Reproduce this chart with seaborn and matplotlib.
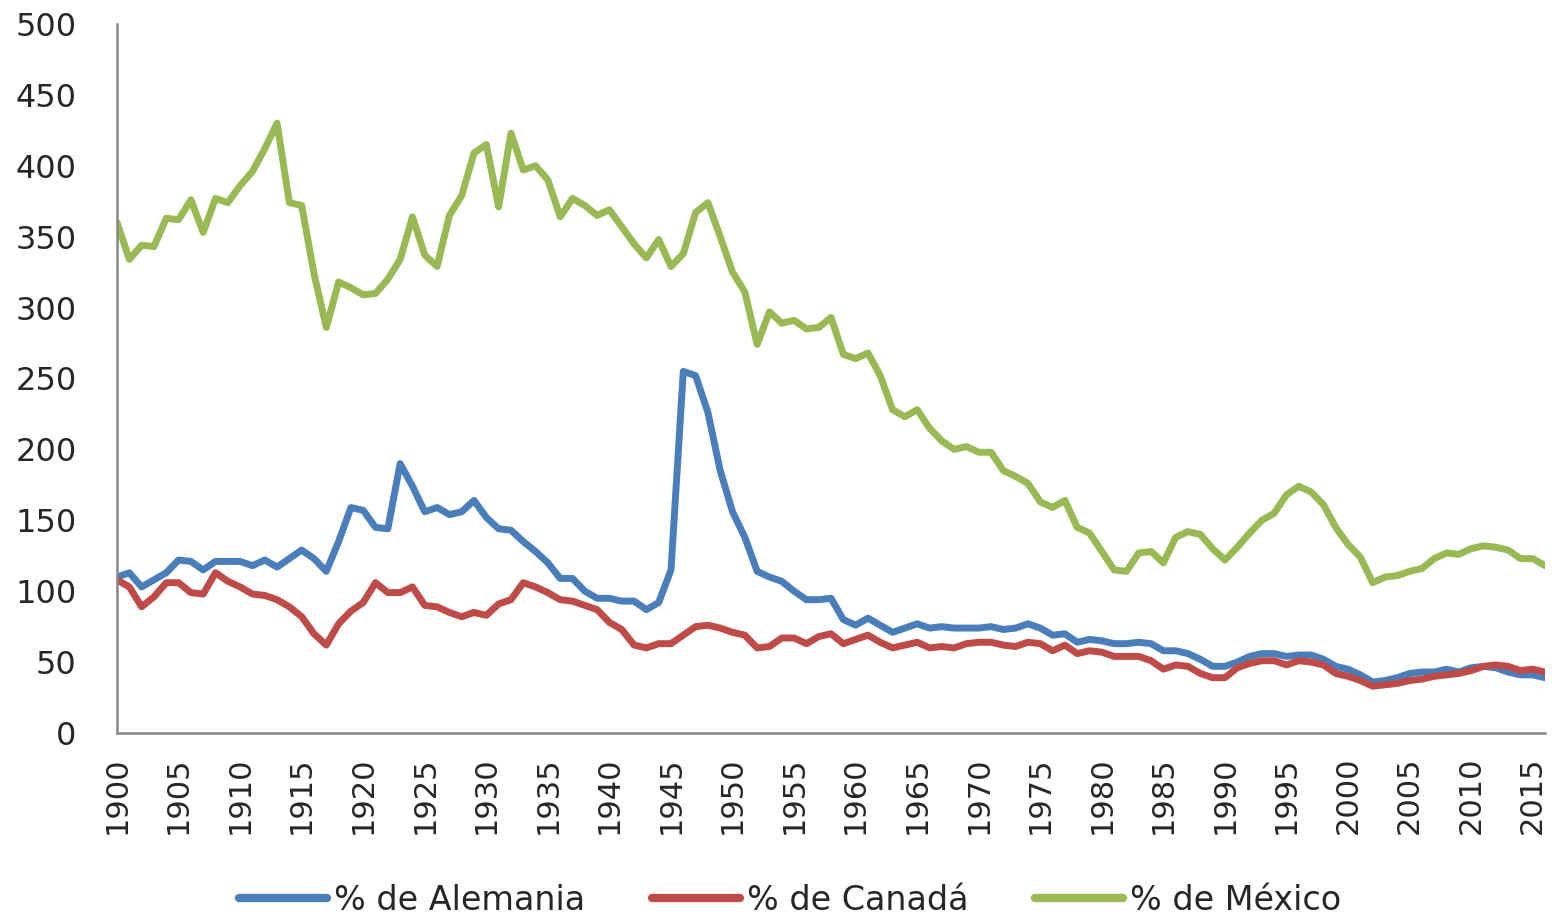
import pandas as pd
import matplotlib
matplotlib.use("Agg")
import matplotlib.pyplot as plt
import seaborn as sns
from matplotlib.ticker import MultipleLocator

# --- data (one value per year, 1900-2016) ---
years = list(range(1900, 2017))

alemania = [
    110, 113, 103, 108, 113, 122, 121, 115, 121, 121,
    121, 118, 122, 117, 123, 129, 123, 114, 135, 159,
    157, 145, 144, 190, 174, 156, 159, 154, 156, 164,
    152, 144, 143, 135, 128, 120, 109, 109, 100, 95,
    95, 93, 93, 87, 92, 115, 255, 252, 226, 185,
    156, 138, 114, 110, 107, 100, 94, 94, 95, 80,
    76, 81, 76, 71, 74, 77, 74, 75, 74, 74,
    74, 75, 73, 74, 77, 74, 69, 70, 64, 66,
    65, 63, 63, 64, 63, 58, 58, 56, 52, 47,
    47, 50, 54, 56, 56, 54, 55, 55, 52, 47,
    45, 41, 36, 37, 39, 42, 43, 43, 45, 43,
    46, 47, 46, 43, 41, 41, 39,
]

canada = [
    108, 103, 89, 96, 106, 106, 99, 98, 113, 107,
    103, 98, 97, 94, 89, 82, 70, 62, 77, 86,
    92, 106, 99, 99, 103, 90, 89, 85, 82, 85,
    83, 91, 94, 106, 103, 99, 94, 93, 90, 87,
    78, 73, 62, 60, 63, 63, 69, 75, 76, 74,
    71, 69, 60, 61, 67, 67, 63, 68, 70, 63,
    66, 69, 64, 60, 62, 64, 60, 61, 60, 63,
    64, 64, 62, 61, 64, 63, 58, 62, 56, 58,
    57, 54, 54, 54, 51, 45, 48, 47, 42, 39,
    39, 46, 49, 51, 51, 48, 51, 50, 48, 42,
    40, 37, 33, 34, 35, 37, 38, 40, 41, 42,
    44, 47, 48, 47, 44, 45, 43,
]

mexico = [
    360, 334, 344, 343, 363, 362, 376, 353, 377, 374,
    386, 396, 412, 430, 374, 372, 324, 286, 318, 314,
    309, 310, 320, 334, 364, 337, 329, 365, 379, 409,
    415, 371, 423, 397, 400, 390, 364, 377, 372, 365,
    369, 357, 345, 335, 348, 329, 338, 367, 374, 350,
    325, 311, 274, 297, 289, 291, 285, 286, 293, 267,
    264, 268, 252, 228, 223, 228, 215, 206, 200, 202,
    198, 198, 185, 181, 176, 163, 159, 164, 145, 141,
    128, 115, 114, 127, 128, 120, 138, 142, 140, 130,
    122, 131, 141, 150, 155, 168, 174, 170, 161, 145,
    133, 124, 106, 110, 111, 114, 116, 123, 127, 126,
    130, 132, 131, 129, 123, 123, 118,
]

series_names = ['% de Alemania', '% de Canadá', '% de México']
colors = ['#4A7EBB', '#BE4B48', '#98B954']

df = pd.DataFrame({
    'Año': years,
    series_names[0]: alemania,
    series_names[1]: canada,
    series_names[2]: mexico,
}).melt(id_vars='Año', var_name='Serie', value_name='Valor')

sns.set_style('white')
plt.rcParams['font.family'] = ['DejaVu Sans']

axis_grey = '#868686'

fig, ax = plt.subplots(figsize=(15.52, 9.15), dpi=100)
fig.subplots_adjust(left=0.0754, right=0.9955, top=0.9738, bottom=0.1989)

sns.lineplot(data=df, x='Año', y='Valor', hue='Serie', hue_order=series_names,
             palette=colors, linewidth=5, ax=ax)

ax.set_xlim(1900, 2016)
ax.set_ylim(0, 500)
ax.set_xlabel('')
ax.set_ylabel('')

ax.xaxis.set_major_locator(MultipleLocator(5))
ax.xaxis.set_minor_locator(MultipleLocator(1))
ax.yaxis.set_major_locator(MultipleLocator(50))

for side in ['top', 'right']:
    ax.spines[side].set_visible(False)
for side in ['left', 'bottom']:
    ax.spines[side].set_color(axis_grey)
    ax.spines[side].set_linewidth(1.8)

ax.tick_params(axis='x', which='both', direction='out', length=6, width=1.8,
               color=axis_grey, labelsize=22, pad=11, labelrotation=90)
ax.tick_params(axis='y', which='major', direction='out', length=6, width=1.8,
               color=axis_grey, labelsize=23, pad=23)

# legend under the plot, no frame
handles, labels = ax.get_legend_handles_labels()
ax.get_legend().remove()
leg = fig.legend(handles, labels, loc='center', bbox_to_anchor=(0.509, 0.016),
                 ncol=3, frameon=False, fontsize=24, handlelength=2.65,
                 handletextpad=0.2, columnspacing=2.0)
for h in leg.get_lines():
    h.set_linewidth(6)
    h.set_solid_capstyle('round')

fig.savefig('out.png', dpi=100)
